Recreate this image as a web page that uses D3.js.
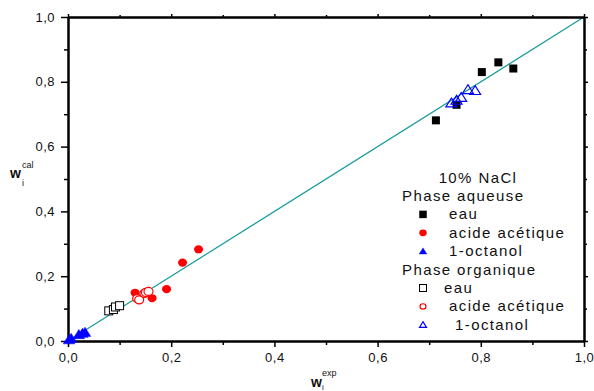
<!DOCTYPE html>
<html>
<head>
<meta charset="utf-8">
<script src="https://cdn.jsdelivr.net/npm/d3@7"></script>
<style>
  html, body { margin: 0; padding: 0; background: #fff; }
  svg { display: block; font-family: "Liberation Sans", Arial, sans-serif; }
</style>
</head>
<body>
<svg id="chart" width="594" height="391"></svg>
<script>
// ---- data ----
const aqEauX = [0.713, 0.753, 0.802, 0.834, 0.863];
const aqEauY = [0.681, 0.729, 0.830, 0.860, 0.841];
const aqAcideX = [0.130, 0.163, 0.191, 0.222, 0.253];
const aqAcideY = [0.149, 0.132, 0.160, 0.242, 0.283];
const aqOctX = [0.002, 0.006, 0.021, 0.028, 0.033];
const aqOctY = [0.004, 0.008, 0.020, 0.024, 0.027];
const orgEauX = [0.079, 0.088, 0.092, 0.100];
const orgEauY = [0.093, 0.097, 0.105, 0.109];
const orgAcideX = [0.134, 0.138, 0.148, 0.151, 0.156];
const orgAcideY = [0.131, 0.127, 0.147, 0.150, 0.153];
const orgOctX = [0.743, 0.753, 0.762, 0.775, 0.789];
const orgOctY = [0.735, 0.743, 0.752, 0.776, 0.773];
const majorTicks = [0, 0.2, 0.4, 0.6, 0.8, 1.0];
const minorTicks = [0.1, 0.3, 0.5, 0.7, 0.9];
const legendTitle = "10% NaCl";
const legendGroups = ["Phase aqueuse", "Phase organique"];
const legendLabels = ["eau", "acide acétique", "1-octanol"];

// ---- layout ----
const svg = d3.select("#chart");
const x = d3.scaleLinear().domain([0, 1]).range([68, 584]);
const y = d3.scaleLinear().domain([0, 1]).range([341, 17]);
const fmt = v => d3.format(".1f")(v).replace(".", ",");

// diagonal
svg.append("line")
  .attr("x1", x(0)).attr("y1", y(0)).attr("x2", x(1)).attr("y2", y(1))
  .attr("stroke", "#169a9a").attr("stroke-width", 1.2);

// axes
function styleAxis(g) {
  g.selectAll("path.domain").attr("stroke", "#000").attr("stroke-width", 2);
  g.selectAll(".tick line").attr("stroke", "#000").attr("stroke-width", 1.5);
  g.selectAll(".tick text").attr("fill", "#111").style("font-size", "13px")
    .style("font-family", "'Liberation Sans', Arial, sans-serif").style("letter-spacing", "0.5px");
}
// bottom
const gB = svg.append("g").attr("transform", `translate(0,${y(0)})`)
  .call(d3.axisBottom(x).tickValues(majorTicks).tickFormat(fmt).tickSize(6).tickSizeOuter(0).tickPadding(6));
styleAxis(gB);
svg.append("g").attr("transform", `translate(0,${y(0)})`)
  .call(d3.axisBottom(x).tickValues(minorTicks).tickFormat("").tickSize(4).tickSizeOuter(0))
  .call(styleAxis);
// left
const gL = svg.append("g").attr("transform", `translate(${x(0)},0)`)
  .call(d3.axisLeft(y).tickValues(majorTicks).tickFormat(fmt).tickSize(7).tickSizeOuter(0).tickPadding(6));
styleAxis(gL);
svg.append("g").attr("transform", `translate(${x(0)},0)`)
  .call(d3.axisLeft(y).tickValues(minorTicks).tickFormat("").tickSize(4).tickSizeOuter(0))
  .call(styleAxis);
// top
svg.append("g").attr("transform", `translate(0,${y(1)})`)
  .call(d3.axisTop(x).tickValues(majorTicks).tickFormat("").tickSize(3).tickSizeOuter(0)).call(styleAxis);
svg.append("g").attr("transform", `translate(0,${y(1)})`)
  .call(d3.axisTop(x).tickValues(minorTicks).tickFormat("").tickSize(2).tickSizeOuter(0)).call(styleAxis);
// right
svg.append("g").attr("transform", `translate(${x(1)},0)`)
  .call(d3.axisRight(y).tickValues(majorTicks).tickFormat("").tickSize(4).tickSizeOuter(0)).call(styleAxis);
svg.append("g").attr("transform", `translate(${x(1)},0)`)
  .call(d3.axisRight(y).tickValues(minorTicks).tickFormat("").tickSize(3).tickSizeOuter(0)).call(styleAxis);

// ---- markers ----
function drawMarker(g, kind, cx, cy, s) {
  const blue = "#0000ff", red = "#ff0000";
  if (kind === "fsq") {
    g.append("rect").attr("x", cx - s / 2).attr("y", cy - s / 2).attr("width", s).attr("height", s).attr("fill", "#000");
  } else if (kind === "osq") {
    g.append("rect").attr("x", cx - s / 2).attr("y", cy - s / 2).attr("width", s).attr("height", s)
      .attr("fill", "#fff").attr("stroke", "#000").attr("stroke-width", 1);
  } else if (kind === "fci") {
    g.append("ellipse").attr("cx", cx).attr("cy", cy).attr("rx", s / 2).attr("ry", s / 2 * 0.9).attr("fill", red);
  } else if (kind === "oci") {
    g.append("ellipse").attr("cx", cx).attr("cy", cy).attr("rx", s / 2 - 0.5).attr("ry", s / 2 * 0.9 - 0.5)
      .attr("fill", "#fff").attr("stroke", red).attr("stroke-width", 1.2);
  } else if (kind === "ftr" || kind === "otr") {
    const h = s * 0.8;
    const pts = [[cx, cy - h * 0.55], [cx - s / 2, cy + h * 0.45], [cx + s / 2, cy + h * 0.45]];
    g.append("polygon").attr("points", pts.map(p => p.join(",")).join(" "))
      .attr("fill", kind === "ftr" ? blue : "none")
      .attr("stroke", blue).attr("stroke-width", kind === "ftr" ? 0.5 : 1.2);
  }
}

const series = [
  { kind: "osq", xs: orgEauX, ys: orgEauY, s: 8 },
  { kind: "oci", xs: orgAcideX, ys: orgAcideY, s: 10 },
  { kind: "otr", xs: orgOctX, ys: orgOctY, s: 11 },
  { kind: "fsq", xs: aqEauX, ys: aqEauY, s: 8 },
  { kind: "fci", xs: aqAcideX, ys: aqAcideY, s: 9 },
  { kind: "ftr", xs: aqOctX, ys: aqOctY, s: 11.5 },
];
const pg = svg.append("g");
const order = [3, 4, 5, 0, 1, 2];
order.forEach(i => {
  const sr = series[i];
  sr.xs.forEach((v, j) => drawMarker(pg, sr.kind, x(v), y(sr.ys[j]), sr.s));
});

// ---- legend ----
const lg = svg.append("g").style("font-size", "15px").style("letter-spacing", "1.4px").attr("fill", "#111");
lg.append("text").attr("x", 478).attr("y", 183).attr("text-anchor", "middle").text(legendTitle);
const rowH = 18.4;
const kindsAq = ["fsq", "fci", "ftr"], kindsOrg = ["osq", "oci", "otr"];
const textX = [[449, 449, 449], [444, 449, 455]];
legendGroups.forEach((grp, gi) => {
  const base = 201 + gi * rowH * 4;
  lg.append("text").attr("x", 402).attr("y", base).text(grp);
  legendLabels.forEach((lab, li) => {
    const ty = base + rowH * (li + 1);
    drawMarker(lg, (gi === 0 ? kindsAq : kindsOrg)[li], 423, ty - 5, gi === 0 ? 7.5 : 7);
    lg.append("text").attr("x", textX[gi][li]).attr("y", ty).text(lab);
  });
});

// ---- axis titles ----
const yt = svg.append("text").attr("x", 10).attr("y", 178).attr("fill", "#111");
yt.append("tspan").style("font-size", "14px").style("font-weight", "bold").text("w");
yt.append("tspan").attr("x", 22).attr("y", 168).style("font-size", "9px").text("cal");
svg.append("text").attr("x", 22).attr("y", 186).attr("fill", "#111").style("font-size", "9px").text("i");

const xt = svg.append("text").attr("x", 311).attr("y", 387).attr("fill", "#111");
xt.append("tspan").style("font-size", "14px").style("font-weight", "bold").text("w");
xt.append("tspan").attr("x", 322).attr("y", 376).style("font-size", "9px").text("exp");
svg.append("text").attr("x", 322).attr("y", 390).attr("fill", "#111").style("font-size", "8px").text("i");
</script>
</body>
</html>
